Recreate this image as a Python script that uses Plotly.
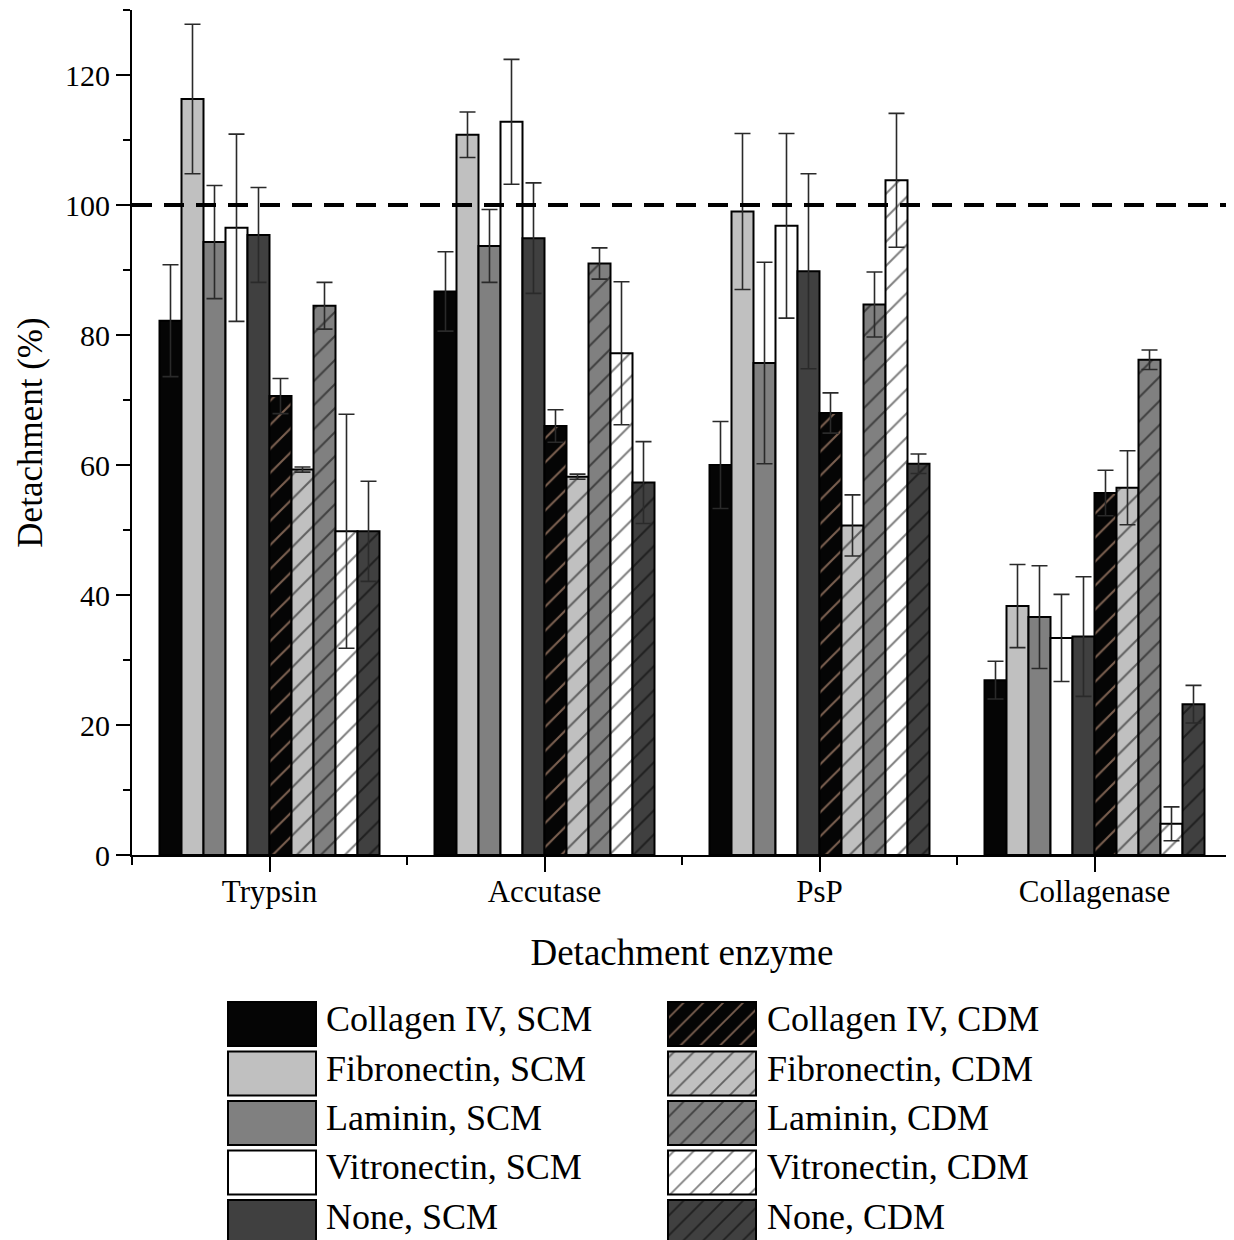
import plotly.graph_objects as go

# ---------------- data ----------------
categories = ["Trypsin", "Accutase", "PsP", "Collagenase"]

series_names = [
    "Collagen IV, SCM", "Fibronectin, SCM", "Laminin, SCM", "Vitronectin, SCM", "None, SCM",
    "Collagen IV, CDM", "Fibronectin, CDM", "Laminin, CDM", "Vitronectin, CDM", "None, CDM",
]

col4_scm = [82.2, 86.7, 60.0, 26.9]
col4_scm_err = [8.6, 6.1, 6.7, 2.9]
fib_scm = [116.3, 110.8, 99.0, 38.3]
fib_scm_err = [11.5, 3.5, 12.0, 6.4]
lam_scm = [94.3, 93.7, 75.7, 36.6]
lam_scm_err = [8.7, 5.6, 15.5, 7.9]
vit_scm = [96.5, 112.8, 96.8, 33.4]
vit_scm_err = [14.4, 9.6, 14.2, 6.7]
none_scm = [95.4, 94.9, 89.8, 33.6]
none_scm_err = [7.3, 8.5, 15.0, 9.2]

col4_cdm = [70.6, 66.0, 68.0, 55.7]
col4_cdm_err = [2.7, 2.5, 3.1, 3.5]
fib_cdm = [59.3, 58.2, 50.7, 56.5]
fib_cdm_err = [0.4, 0.4, 4.7, 5.7]
lam_cdm = [84.5, 91.0, 84.7, 76.2]
lam_cdm_err = [3.6, 2.4, 5.0, 1.5]
vit_cdm = [49.8, 77.2, 103.8, 4.8]
vit_cdm_err = [18.0, 11.0, 10.3, 2.6]
none_cdm = [49.8, 57.3, 60.2, 23.2]
none_cdm_err = [7.7, 6.3, 1.5, 2.9]

series_values = [col4_scm, fib_scm, lam_scm, vit_scm, none_scm,
                 col4_cdm, fib_cdm, lam_cdm, vit_cdm, none_cdm]
series_errors = [col4_scm_err, fib_scm_err, lam_scm_err, vit_scm_err, none_scm_err,
                 col4_cdm_err, fib_cdm_err, lam_cdm_err, vit_cdm_err, none_cdm_err]

reference_level = 100
y_ticks = [0, 20, 40, 60, 80, 100, 120]

# ---------------- styles ----------------
FONT = "Liberation Serif"
fills = ["#050505", "#c0c0c0", "#808080", "#ffffff", "#404040"] * 2
hatched = [False] * 5 + [True] * 5
hatch_colors = ["#000000"] * 5 + ["#f2bb9c", "#000000", "#000000", "#000000", "#000000"]
ERR_COLOR = "#2a2a2a"


def marker_for(i, hatch_size, solidity):
    m = dict(color=fills[i], line=dict(color="black", width=2))
    if hatched[i]:
        m["pattern"] = dict(shape="/", fgcolor=hatch_colors[i], bgcolor=fills[i],
                            size=hatch_size, solidity=solidity, fillmode="overlay")
    return m


fig = go.Figure()
x_pos = list(range(len(categories)))

for i, name in enumerate(series_names):
    fig.add_trace(go.Bar(
        x=x_pos, y=series_values[i], name=name,
        marker=marker_for(i, 17, 0.12),
        error_y=dict(type="data", array=series_errors[i], visible=True,
                     color=ERR_COLOR, thickness=1.6, width=8),
        showlegend=False,
        xaxis="x", yaxis="y",
    ))

# ---------------- custom legend (large swatches) ----------------
LEG_COL_X0 = [96, 536]      # swatch left edges (legend-axis units = px from plot left)
LEG_SWATCH_W = 88
LEG_TEXT_X = [192, 633]
LEG_ROWS = 5
for i, name in enumerate(series_names):
    col, row = divmod(i, LEG_ROWS)
    fig.add_trace(go.Bar(
        orientation="h", y=[row], x=[LEG_SWATCH_W], base=[LEG_COL_X0[col]],
        width=0.89, offset=-0.445,
        marker=marker_for(i, 14, 0.13),
        showlegend=False, hoverinfo="skip",
        xaxis="x2", yaxis="y2",
    ))
    fig.add_annotation(
        x=LEG_TEXT_X[col], y=row, xref="x2", yref="y2", text=name,
        showarrow=False, xanchor="left", yanchor="middle", yshift=5,
        font=dict(family=FONT, size=36, color="black"),
    )

# reference dashed line
fig.add_shape(type="line", xref="x domain", yref="y", x0=0, x1=1,
              y0=reference_level, y1=reference_level,
              line=dict(color="black", width=4, dash="20px,12px"))

minor_x = [p - 0.5 for p in x_pos] + [x_pos[-1] + 0.5]

fig.update_layout(
    width=1226, height=1232,
    margin=dict(l=124, r=2, t=2, b=0),
    paper_bgcolor="white", plot_bgcolor="white",
    barmode="group", bargap=0.2, bargroupgap=0,
    font=dict(family=FONT, color="black"),
    xaxis=dict(
        domain=[0, 1], range=[-0.5, len(categories) - 0.5],
        tickmode="array", tickvals=x_pos, ticktext=categories,
        ticks="outside", ticklen=15, tickwidth=2, tickcolor="black",
        ticklabelstandoff=-7,
        minor=dict(tickmode="array", tickvals=minor_x, ticks="outside",
                   ticklen=8, tickwidth=2, tickcolor="black"),
        showline=True, linecolor="black", linewidth=2,
        showgrid=False, zeroline=False,
        tickfont=dict(family=FONT, size=31),
        title=dict(text="Detachment enzyme", font=dict(family=FONT, size=37), standoff=31),
        automargin=False, anchor="y",
    ),
    yaxis=dict(
        domain=[385 / 1230, 1], range=[0, 130],
        tickmode="array", tickvals=y_ticks,
        ticks="outside", ticklen=14, tickwidth=2, tickcolor="black",
        minor=dict(dtick=10, tick0=0, ticks="outside", ticklen=7, tickwidth=2,
                   tickcolor="black"),
        showline=True, linecolor="black", linewidth=2,
        showgrid=False, zeroline=False,
        tickfont=dict(family=FONT, size=30),
        title=dict(text="Detachment (%)", font=dict(family=FONT, size=35), standoff=12),
        automargin=False, anchor="x",
    ),
    xaxis2=dict(domain=[0, 1], range=[0, 1100], visible=False, anchor="y2",
                fixedrange=True),
    yaxis2=dict(domain=[0, 240 / 1230], range=[4.364, -0.485], visible=False,
                anchor="x2", fixedrange=True),
)

fig.write_html("out.html")
